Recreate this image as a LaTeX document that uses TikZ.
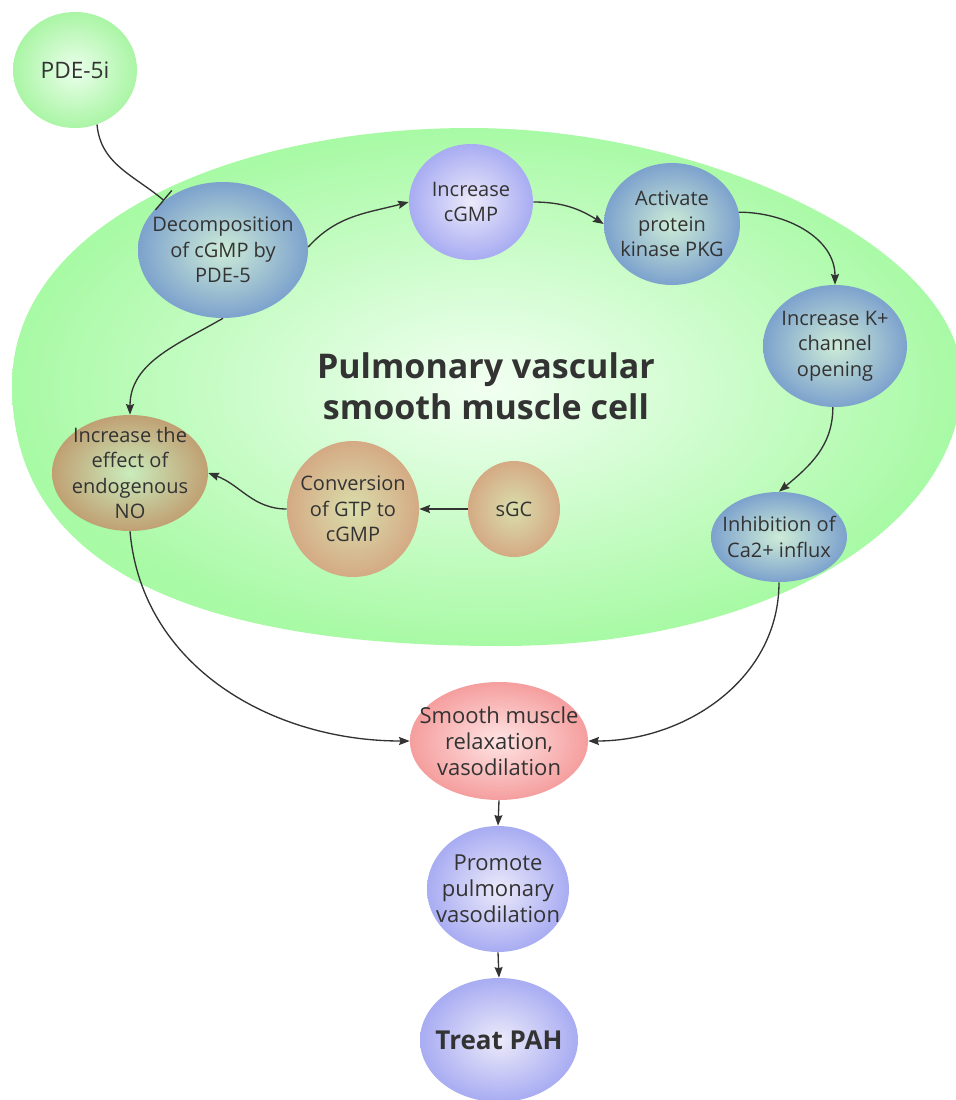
\documentclass[tikz,border=0pt]{standalone}
\usepackage{fontspec}
\setmainfont{Open Sans}
\usepackage{tikz}
\usetikzlibrary{arrows.meta,shapes.geometric}

\definecolor{inktext}{RGB}{51,51,51}
\definecolor{cellgreen}{RGB}{168,250,165}
\definecolor{cellcore}{RGB}{242,255,242}
\definecolor{leafedge}{RGB}{170,245,165}
\definecolor{leafcore}{RGB}{235,255,235}
\definecolor{tealedge}{RGB}{125,162,205}
\definecolor{tealcore}{RGB}{205,236,215}
\definecolor{lilacedge}{RGB}{168,172,242}
\definecolor{lilaccore}{RGB}{236,234,250}
\definecolor{tanedge}{RGB}{192,160,115}
\definecolor{tancore}{RGB}{202,236,188}
\definecolor{clayedge}{RGB}{212,170,132}
\definecolor{claycore}{RGB}{218,222,172}
\definecolor{rosedge}{RGB}{245,158,158}
\definecolor{rosecore}{RGB}{255,228,228}

\begin{document}
\begin{tikzpicture}[x=0.75pt, y=0.75pt,
  >={Stealth[length=8pt, width=6pt, inset=1pt]},
  bubble/.style={ellipse, inner sep=-60pt, align=center, text=inktext,
    font=\fontsize{15}{19}\selectfont},
  leaf/.style={bubble, inner color=leafcore, outer color=leafedge},
  teal/.style={bubble, inner color=tealcore, outer color=tealedge},
  lilac/.style={bubble, inner color=lilaccore, outer color=lilacedge},
  tan/.style={bubble, inner color=tancore, outer color=tanedge},
  clay/.style={bubble, inner color=claycore, outer color=clayedge},
  rose/.style={bubble, inner color=rosecore, outer color=rosedge},
  arr/.style={->, line width=1pt, draw=inktext},
  inhibit/.style={-{Bar[width=19pt, line width=1pt]}, line width=1pt, draw=inktext}
]
  \clip (0,0) rectangle (956,-1100);
  \useasboundingbox (0,0) rectangle (956,-1100);

  % the cell
  \path[inner color=cellcore, outer color=cellgreen]
    (12,-385) .. controls (12,-225) and (230,-128) .. (470,-128)
    .. controls (710,-128) and (962,-250) .. (962,-380)
    .. controls (962,-520) and (780,-646) .. (500,-646)
    .. controls (230,-646) and (12,-585) .. (12,-385) -- cycle;
  \node[text=inktext, align=center, font=\bfseries\fontsize{25.5}{31}\selectfont]
    (cell) at (486,-386) {Pulmonary vascular\\smooth muscle cell};

  % bubbles
  \node[leaf, minimum width=93pt, minimum height=87pt, font=\fontsize{17}{21}\selectfont]
    (pde) at (75,-70) {PDE-5i};
  \node[teal, minimum width=127.5pt, minimum height=102pt]
    (decomp) at (223,-250) {Decomposition\\of cGMP by\\PDE-5};
  \node[lilac, minimum width=93pt, minimum height=87pt]
    (cgmp) at (471,-202) {Increase\\cGMP};
  \node[teal, minimum width=102pt, minimum height=91.5pt]
    (pkg) at (672,-224) {Activate\\protein\\kinase PKG};
  \node[teal, minimum width=108pt, minimum height=91.5pt]
    (kchan) at (835,-346) {Increase K+\\channel\\opening};
  \node[teal, minimum width=102pt, minimum height=67.5pt]
    (ca) at (779,-537) {Inhibition of\\Ca2+ influx};
  \node[tan, minimum width=117pt, minimum height=87pt]
    (no) at (130,-473) {Increase the\\effect of\\endogenous\\NO};
  \node[clay, minimum width=99pt, minimum height=102pt]
    (gtp) at (353,-509) {Conversion\\of GTP to\\cGMP};
  \node[clay, minimum width=69pt, minimum height=72pt]
    (sgc) at (514,-509) {sGC};
  \node[rose, minimum width=133.5pt, minimum height=88.5pt, font=\fontsize{16.5}{19.5}\selectfont]
    (relax) at (499,-741) {Smooth muscle\\relaxation,\\vasodilation};
  \node[lilac, minimum width=106.5pt, minimum height=94.5pt, font=\fontsize{16.5}{19.5}\selectfont]
    (promote) at (498,-889) {Promote\\pulmonary\\vasodilation};
  \node[lilac, minimum width=118.5pt, minimum height=93pt, font=\bfseries\fontsize{19.5}{23}\selectfont]
    (pah) at (499,-1040) {Treat PAH};

  % connectors
  \draw[inhibit] (pde.-68) to[out=-85, in=140] (decomp.140);
  \draw[arr] (decomp.2) to[out=48, in=195] (cgmp.180);
  \draw[arr] (cgmp.0) to[out=0, in=148] (pkg.180);
  \draw[arr] (pkg.10) to[out=0, in=90] (kchan.90);
  \draw[arr] (kchan.268) to[out=-90, in=40] (ca.90);
  \draw[arr] (decomp.270) to[out=210, in=90] (no.90);
  \draw[arr] (sgc.180) -- (gtp.0);
  \draw[arr] (gtp.180) to[out=180, in=-20] (no.0);
  \draw[arr] (no.270) to[out=-85, in=180] (relax.180);
  \draw[arr] (ca.270) to[out=-90, in=0] (relax.0);
  \draw[arr] (relax.270) -- (promote.90);
  \draw[arr] (promote.270) -- (pah.90);
\end{tikzpicture}
\end{document}
